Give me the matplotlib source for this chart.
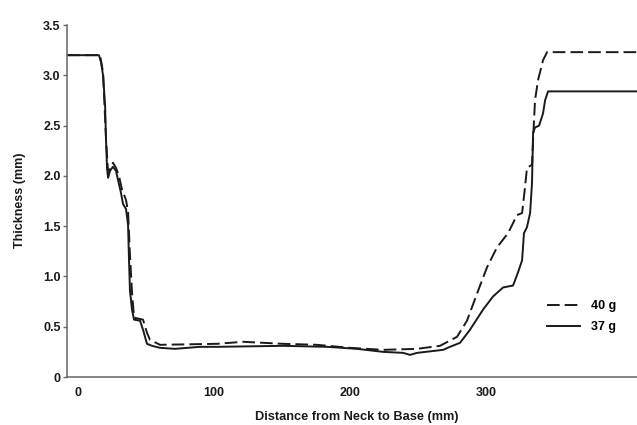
import matplotlib.pyplot as plt

# distance from neck (mm) and wall thickness (mm)
dist_37 = [-8.1, 15.4, 16.9, 18.4, 19.9, 20.6, 21.3, 22.1, 23.5, 25.7, 27.9, 29.4, 31.6,
           33.1, 35.3, 36.8, 37.5, 38.2, 39.7, 41.2, 45.6, 47.8, 50.7, 54.4, 60.3, 71.3,
           89.7, 102.2, 150.7, 183.1, 205.1, 224.3, 239.0, 244.1, 249.3, 268.4, 273.5,
           280.9, 288.2, 297.8, 305.1, 312.5, 319.9, 323.5, 326.5, 327.9, 330.1, 332.4,
           333.8, 334.6, 336.0, 339.0, 341.9, 343.4, 345.6, 411.0]
thick_37 = [3.20, 3.20, 3.13, 3.00, 2.70, 2.36, 2.08, 1.98, 2.05, 2.09, 2.05, 1.96, 1.83,
            1.72, 1.67, 1.51, 1.16, 0.86, 0.67, 0.57, 0.56, 0.47, 0.33, 0.31, 0.29, 0.28,
            0.30, 0.30, 0.31, 0.30, 0.28, 0.25, 0.24, 0.22, 0.24, 0.27, 0.30, 0.34, 0.47,
            0.67, 0.80, 0.89, 0.91, 1.04, 1.16, 1.43, 1.49, 1.63, 1.93, 2.43, 2.48, 2.50,
            2.62, 2.75, 2.84, 2.84]

dist_40 = [-8.1, 16.2, 18.4, 20.6, 22.1, 24.3, 25.7, 27.9, 30.1, 32.4, 35.3, 36.8, 38.2,
           39.7, 41.2, 47.8, 50.7, 52.9, 60.3, 102.2, 121.3, 150.7, 175.7, 200.0, 224.3,
           249.3, 266.2, 278.7, 286.0, 293.4, 300.7, 308.1, 316.2, 322.8, 326.5, 328.7,
           330.1, 333.8, 334.6, 336.0, 338.2, 341.9, 344.9, 411.0]
thick_40 = [3.20, 3.20, 3.03, 2.36, 2.04, 2.08, 2.13, 2.08, 2.00, 1.86, 1.76, 1.64, 1.21,
            0.84, 0.59, 0.57, 0.44, 0.37, 0.32, 0.33, 0.35, 0.33, 0.32, 0.29, 0.27, 0.28,
            0.31, 0.40, 0.56, 0.83, 1.09, 1.29, 1.43, 1.61, 1.63, 1.89, 2.08, 2.11, 2.36,
            2.75, 2.95, 3.15, 3.23, 3.23]

x_ticks = [0, 100, 200, 300]
y_ticks = [0, 0.5, 1.0, 1.5, 2.0, 2.5, 3.0, 3.5]
y_labels = ['0', '0.5', '1.0', '1.5', '2.0', '2.5', '3.0', '3.5']

plt.rcParams['font.family'] = ['Liberation Sans', 'DejaVu Sans']
plt.rcParams['font.weight'] = 'bold'
plt.rcParams['font.size'] = 9

fig = plt.figure(figsize=(6.37, 4.25), dpi=100)
ax = fig.add_axes([67 / 637, 1 - 377 / 425, 1 - 67 / 637, (377 - 25) / 425])

ax.plot(dist_40, thick_40, color='#1a1a1a', lw=1.4, dashes=(6.5, 2.6), label='40 g')
ax.plot(dist_37, thick_37, color='#1a1a1a', lw=1.4, label='37 g')

ax.set_xlim(-8.1, 411)
ax.set_ylim(0, 3.5)
ax.set_xticks(x_ticks)
ax.set_yticks(y_ticks)
ax.set_yticklabels(y_labels)

for side in ['top', 'right']:
    ax.spines[side].set_visible(False)
for side in ['left', 'bottom']:
    ax.spines[side].set_color('#666666')
    ax.spines[side].set_linewidth(1.1)
ax.tick_params(axis='x', length=0, pad=7, colors='#1a1a1a')
ax.tick_params(axis='y', length=3, width=1, pad=1.5, color='#666666', labelcolor='#1a1a1a')

fig.text(357 / 637, 1 - 417 / 425, 'Distance from Neck to Base (mm)', ha='center', va='center',
         fontweight='bold', fontsize=9.2, color='#1a1a1a')
fig.text(20 / 637, 1 - 200 / 425, 'Thickness (mm)', ha='center', va='center', rotation=90,
         fontweight='bold', color='#1a1a1a')

ax.legend(frameon=False, loc='upper left', bbox_to_anchor=(547 / 637, 1 - 300 / 425),
          bbox_transform=fig.transFigure, borderaxespad=0, borderpad=0,
          handlelength=2.6, handletextpad=0.9, labelspacing=0.75)

fig.savefig('out.png', dpi=100)
